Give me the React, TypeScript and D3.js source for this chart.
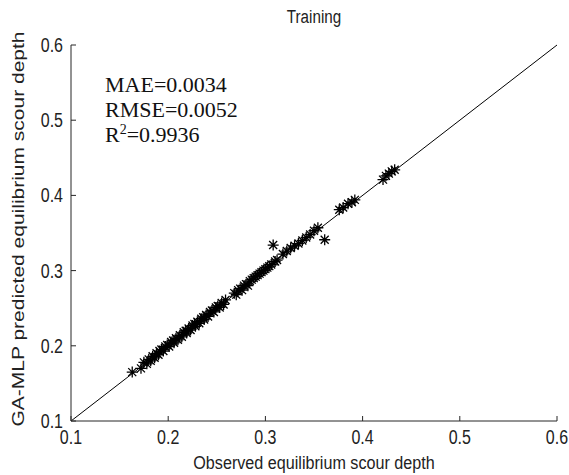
import React from 'react';
import * as d3 from 'd3';

const observed = [
  0.163, 0.172, 0.175, 0.178, 0.180, 0.182, 0.184, 0.186, 0.188, 0.190,
  0.191, 0.193, 0.195, 0.197, 0.199, 0.201, 0.203, 0.205, 0.206, 0.208,
  0.210, 0.212, 0.214, 0.216, 0.218, 0.219, 0.221, 0.223, 0.225, 0.227,
  0.228, 0.230, 0.232, 0.234, 0.236, 0.237, 0.239, 0.241, 0.243, 0.245,
  0.247, 0.249, 0.251, 0.253, 0.255, 0.257, 0.259, 0.268, 0.270, 0.272,
  0.274, 0.276, 0.278, 0.280, 0.282, 0.284, 0.286, 0.288, 0.290, 0.292,
  0.294, 0.296, 0.298, 0.300, 0.302, 0.304, 0.306, 0.308, 0.310, 0.312,
  0.318, 0.322, 0.326, 0.330, 0.334, 0.338, 0.342, 0.346, 0.350, 0.354,
  0.361, 0.376, 0.380, 0.385, 0.389, 0.392, 0.421, 0.424, 0.427, 0.430,
  0.433,
];
const predicted = [
  0.165, 0.170, 0.178, 0.176, 0.182, 0.180, 0.186, 0.184, 0.190, 0.188,
  0.193, 0.195, 0.193, 0.199, 0.201, 0.199, 0.205, 0.207, 0.204, 0.210,
  0.208, 0.214, 0.212, 0.218, 0.220, 0.217, 0.223, 0.221, 0.227, 0.229,
  0.226, 0.232, 0.230, 0.236, 0.238, 0.235, 0.241, 0.239, 0.245, 0.247,
  0.245, 0.251, 0.253, 0.251, 0.257, 0.255, 0.261, 0.270, 0.268, 0.274,
  0.276, 0.274, 0.280, 0.282, 0.280, 0.286, 0.288, 0.290, 0.292, 0.294,
  0.296, 0.298, 0.300, 0.302, 0.304, 0.306, 0.308, 0.334, 0.312, 0.314,
  0.322, 0.326, 0.330, 0.333, 0.336, 0.340, 0.344, 0.348, 0.353, 0.357,
  0.341, 0.381, 0.384, 0.389, 0.391, 0.394, 0.421, 0.426, 0.429, 0.432,
  0.434,
];
const tickValues = [0.1, 0.2, 0.3, 0.4, 0.5, 0.6];
const tickLabels = ['0.1', '0.2', '0.3', '0.4', '0.5', '0.6'];
const titleText = 'Training';
const xLabelText = 'Observed equilibrium scour depth';
const yLabelText = 'GA-MLP predicted equilibrium scour depth';
const statLines = ['MAE=0.0034', 'RMSE=0.0052'];
const r2Value = '=0.9936';

export default function App() {
  const W = 569, H = 475;
  const left = 71, right = 557, top = 45, bottom = 421;
  const x = d3.scaleLinear().domain([0.1, 0.6]).range([left, right]);
  const y = d3.scaleLinear().domain([0.1, 0.6]).range([bottom, top]);
  const axisColor = '#262626';
  const sans = 'Liberation Sans, Arial, sans-serif';
  const serif = 'Liberation Serif, Times New Roman, serif';
  const starPath = (cx: number, cy: number) => {
    const a = 5.5, b = 4;
    return `M${cx - a},${cy}H${cx + a}M${cx},${cy - a}V${cy + a}` +
      `M${cx - b},${cy - b}L${cx + b},${cy + b}M${cx - b},${cy + b}L${cx + b},${cy - b}`;
  };
  const lineGen = d3.line<number>().x((d) => x(d)).y((d) => y(d));
  return (
    <svg width={W} height={H} style={{ position: 'absolute', left: 0, top: 0, background: '#fff' }}>
      <rect width={W} height={H} fill="#fff" />
      <path d={lineGen([0.1, 0.6]) || ''} stroke="#000" strokeWidth={1} fill="none" />
      {observed.map((o, i) => (
        <path key={i} d={starPath(x(o), y(predicted[i]))} stroke="#000" strokeWidth={1.3} fill="none" />
      ))}
      <line x1={left} x2={left} y1={top} y2={bottom} stroke={axisColor} strokeWidth={1} />
      <line x1={left} x2={right} y1={bottom} y2={bottom} stroke={axisColor} strokeWidth={1} />
      {tickValues.map((t, i) => (
        <g key={'t' + i}>
          <line x1={x(t)} x2={x(t)} y1={bottom} y2={bottom - 5} stroke={axisColor} />
          <line x1={left} x2={left + 5} y1={y(t)} y2={y(t)} stroke={axisColor} />
          <text transform={`translate(${x(t)},${bottom + 23}) scale(0.8,1)`} textAnchor="middle"
            fontFamily={sans} fontSize={20} fill="#222">{tickLabels[i]}</text>
          <text transform={`translate(${left - 8},${y(t) + 7}) scale(0.8,1)`} textAnchor="end"
            fontFamily={sans} fontSize={20} fill="#222">{tickLabels[i]}</text>
        </g>
      ))}
      <text transform={`translate(${(left + right) / 2},23) scale(0.8,1)`} textAnchor="middle"
        fontFamily={sans} fontSize={19} fill="#222">{titleText}</text>
      <text transform={`translate(${(left + right) / 2},469) scale(0.85,1)`} textAnchor="middle"
        fontFamily={sans} fontSize={19} fill="#222">{xLabelText}</text>
      <text transform={`translate(24,229) rotate(-90) scale(1,0.82)`} textAnchor="middle"
        fontFamily={sans} fontSize={21} fill="#222">{yLabelText}</text>
      {statLines.map((s, i) => (
        <text key={'s' + i} x={105} y={92 + i * 25} fontFamily={serif} fontSize={22} fill="#111">{s}</text>
      ))}
      <text x={105} y={142} fontFamily={serif} fontSize={22} fill="#111">
        R<tspan dy={-8} fontSize={14}>2</tspan><tspan dy={8}>{r2Value}</tspan>
      </text>
    </svg>
  );
}
